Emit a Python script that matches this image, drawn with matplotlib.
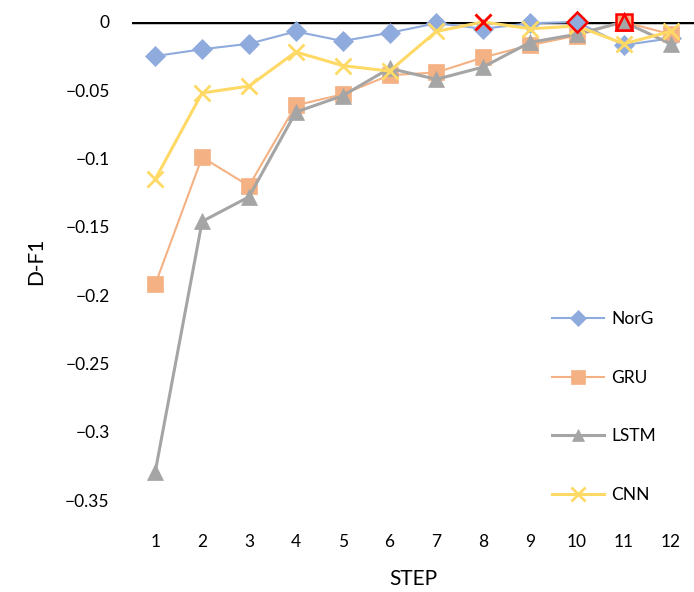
import numpy as np
import matplotlib.pyplot as plt

plt.rcParams['font.family'] = ['Lato', 'DejaVu Sans']

steps = list(range(1, 13))
norg = [-0.025, -0.020, -0.016, -0.007, -0.014, -0.008, -0.001, -0.005, -0.001, 0.0, -0.017, -0.012]
gru = [-0.192, -0.099, -0.120, -0.061, -0.053, -0.039, -0.037, -0.026, -0.017, -0.010, 0.0, -0.009]
lstm = [-0.329, -0.146, -0.128, -0.066, -0.054, -0.034, -0.042, -0.033, -0.015, -0.009, 0.0, -0.016]
cnn = [-0.115, -0.052, -0.047, -0.022, -0.032, -0.036, -0.007, 0.0, -0.005, -0.003, -0.016, -0.007]

names = ['NorG', 'GRU', 'LSTM', 'CNN']
colors = ['#8FAADC', '#F4B183', '#A5A5A5', '#FFD966']
markers = ['D', 's', '^', 'x']
sizes = [10, 12, 11, 12]
widths = [1.5, 1.5, 2.2, 2.2]
series = [norg, gru, lstm, cnn]

fig = plt.figure(figsize=(6.94, 5.92), dpi=100)
ax = fig.add_axes([0.19, 0.155, 0.81, 0.808])

for name, vals, c, m, s, w in zip(names, series, colors, markers, sizes, widths):
    ax.plot(steps, vals, color=c, marker=m, markersize=s, lw=w,
            markeredgewidth=2 if m == 'x' else 0.5, markeredgecolor=c,
            label=name, clip_on=False)
    # best (zero) point highlighted in red
    best = [i for i, v in enumerate(vals) if v == 0]
    for i in best:
        if m == 'x':
            ax.plot(steps[i], vals[i], marker=m, color='red', markersize=s,
                    markeredgewidth=2, clip_on=False, zorder=5)
        else:
            ax.plot(steps[i], vals[i], marker=m, markersize=s, markerfacecolor=c,
                    markeredgecolor='red', markeredgewidth=1.8, clip_on=False, zorder=5)

ax.axhline(0, color='black', lw=2.5, zorder=1)

ax.set_xlim(0.5, 12.5)
ax.set_ylim(-0.35, 0)
ax.set_xticks(steps)
yt = [0, -0.05, -0.1, -0.15, -0.2, -0.25, -0.3, -0.35]
ax.set_yticks(yt)
ax.set_yticklabels(['0' if v == 0 else ('%g' % v).replace('-', '\u2212') for v in yt])
for sp in ax.spines.values():
    sp.set_visible(False)
ax.tick_params(axis='both', length=0, labelsize=12.5)
ax.tick_params(axis='x', pad=24)
ax.tick_params(axis='y', pad=16)
ax.set_xlabel('STEP', fontsize=15, labelpad=14)
ax.set_ylabel('D-F1', fontsize=15, labelpad=14)

ax.legend(loc='lower right', bbox_to_anchor=(0.945, -0.02), frameon=False, fontsize=12.5,
          labelspacing=2.45, handlelength=3.0, handletextpad=0.4, borderaxespad=0.0,
          markerscale=0.85)

fig.savefig('out.png', dpi=100)
